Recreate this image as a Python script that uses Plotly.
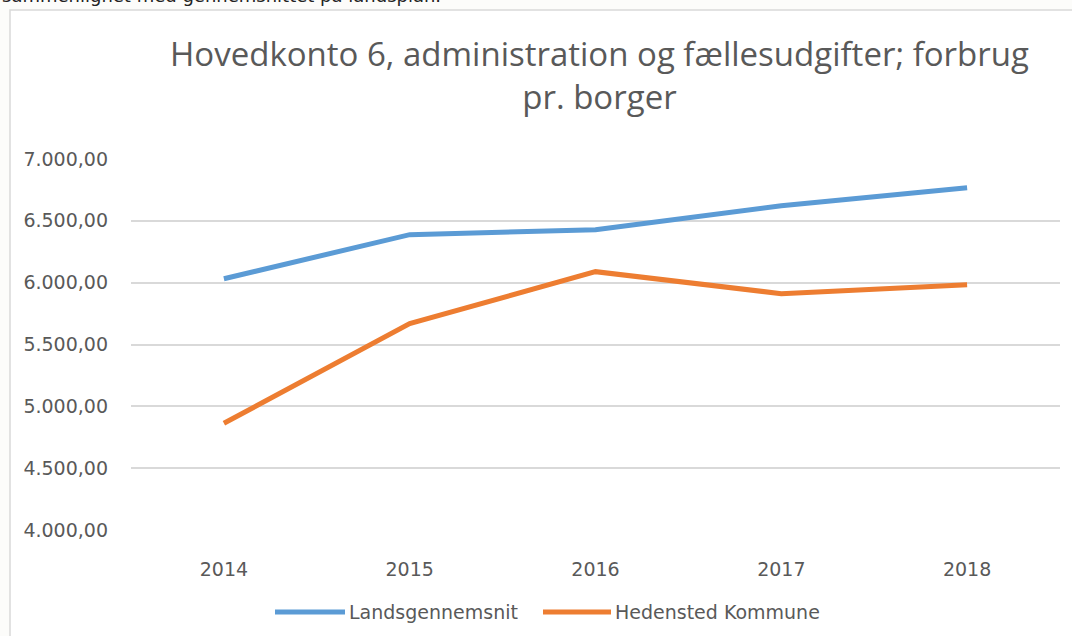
import plotly.graph_objects as go

years = ["2014", "2015", "2016", "2017", "2018"]
landsgennemsnit = [6032, 6388, 6428, 6622, 6768]
hedensted = [4863, 5669, 6089, 5911, 5984]
series_names = ["Landsgennemsnit", "Hedensted Kommune"]
colors = ["#5b9bd5", "#ed7d31"]
y_ticks = [4000, 4500, 5000, 5500, 6000, 6500, 7000]
y_tick_labels = ["4.000,00", "4.500,00", "5.000,00", "5.500,00", "6.000,00", "6.500,00", "7.000,00"]

W, H = 1072, 636
L, R, T, B = 131, 1060, 159, 530


def px(x):
    return (x - L) / (R - L)


def py(y):
    return (B - y) / (B - T)


fig = go.Figure()
for name, vals, col in zip(series_names, [landsgennemsnit, hedensted], colors):
    fig.add_trace(go.Scatter(x=years, y=vals, mode="lines", name=name,
                             line=dict(color=col, width=5), showlegend=False))

shapes = [
    dict(type="rect", xref="paper", yref="paper", x0=px(10), x1=px(1090), y0=py(660), y1=py(10),
         fillcolor="white", line=dict(color="#d9d9d9", width=1.5), layer="below"),
]
annotations = [
    dict(text="Hovedkonto 6, administration og fællesudgifter; forbrug<br>pr. borger",
         xref="paper", yref="paper", x=px(599), y=py(75), xanchor="center", yanchor="middle",
         showarrow=False, font=dict(family="Open Sans", size=33, color="#595959")),
    dict(text="sammenlignet med gennemsnittet på landsplan.", xref="paper", yref="paper",
         x=px(0), y=py(-5), xanchor="left", yanchor="middle", showarrow=False,
         font=dict(family="DejaVu Sans", size=18, color="#222222")),
]
leg = [(275, 345), (543, 611)]
for (x0, x1), name, col in zip(leg, series_names, colors):
    shapes.append(dict(type="line", xref="paper", yref="paper", x0=px(x0), x1=px(x1),
                       y0=py(612), y1=py(612), line=dict(color=col, width=5)))
    annotations.append(dict(text=name, xref="paper", yref="paper", x=px(x1 + 2), y=py(612),
                            xanchor="left", yanchor="middle", showarrow=False,
                            font=dict(family="DejaVu Sans", size=19, color="#595959")))

fig.update_layout(
    width=W, height=H,
    margin=dict(l=L, r=W - R, t=T, b=H - B),
    paper_bgcolor="#fcfcfa",
    plot_bgcolor="rgba(0,0,0,0)",
    shapes=shapes,
    annotations=annotations,
    xaxis=dict(type="category", range=[-0.5, 4.5], showgrid=False, zeroline=False, showline=False,
               ticks="", tickfont=dict(family="DejaVu Sans", size=19, color="#595959"),
               ticklabelstandoff=26),
    yaxis=dict(range=[4000, 7000], tickvals=y_ticks, ticktext=y_tick_labels,
               showgrid=True, gridcolor="#d9d9d9", gridwidth=1.5, zeroline=False,
               showline=False, ticks="",
               tickfont=dict(family="DejaVu Sans", size=19, color="#595959"),
               ticklabelstandoff=22),
)

fig.write_html("out.html", config={"displayModeBar": False},
               post_script="document.body.style.margin='0px';")
